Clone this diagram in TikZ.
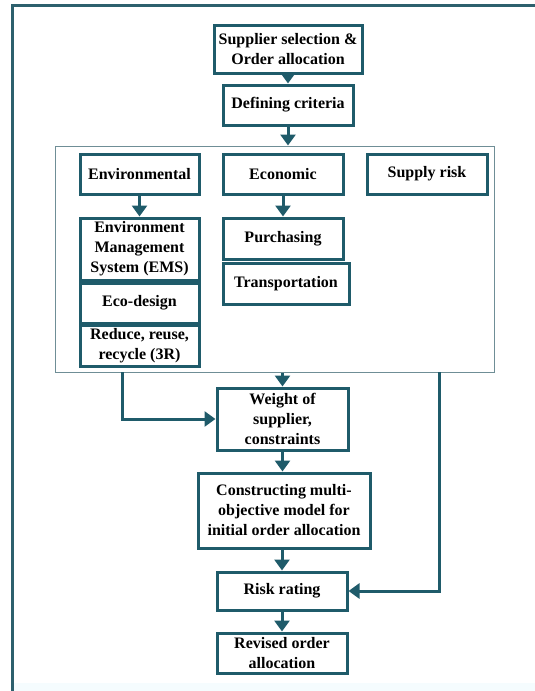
\documentclass[tikz,border=0pt]{standalone}
\usepackage{fontspec}
\setmainfont{Liberation Serif}
\usetikzlibrary{arrows.meta}

\definecolor{tealdark}{HTML}{1F5B6A}
\definecolor{framegray}{HTML}{6F8E96}

\tikzset{
  box/.style={draw=tealdark, line width=3pt, fill=white, align=center,
    inner sep=1pt, font=\bfseries\fontsize{16}{20}\selectfont},
  flow/.style={->, draw=tealdark, line width=3pt}
}

\begin{document}
\begin{tikzpicture}[x=1pt,y=-1pt,>={Triangle[width=15pt,length=11pt]}]
    \useasboundingbox (0,0) rectangle (535,691);
    \fill[cyan!4] (14,683) rectangle (535,691);
    \draw[tealdark!85!gray, line width=3pt] (12,691) -- (12,5) -- (535,5);
    %% Top of the flow
    \node[box, minimum width=148pt, minimum height=48pt] (sel) at (288,49) {Supplier selection \&\\Order allocation};
    \node[box, minimum width=130pt, minimum height=40pt, below of=sel, node distance=56pt] (crit) {Defining criteria};
    %% Criteria panel
    \node[draw=framegray, line width=1pt, minimum width=439pt, minimum height=226pt] (panel) at (274.5,259) {};
    \node[box, minimum width=119pt, minimum height=40pt] (env) at (139.5,174) {Environmental};
    \node[box, minimum width=120pt, minimum height=40pt] (econ) at (283,174) {Economic};
    \node[box, minimum width=120pt, minimum height=40pt] (srisk) at (427,174) {Supply risk};
    \node[box, minimum width=119pt, minimum height=62pt] (ems) at (139.5,249) {Environment\\Management\\System (EMS)};
    \node[box, minimum width=119pt, minimum height=40pt] (ecod) at (139.5,303) {Eco-design};
    \node[box, minimum width=119pt, minimum height=41pt] (threer) at (139.5,345.5) {Reduce, reuse,\\recycle (3R)};
    \node[box, minimum width=120pt, minimum height=41pt] (purch) at (283,238.5) {Purchasing};
    \node[box, minimum width=126pt, minimum height=41pt] (trans) at (286,283.5) {Transportation};
    %% Lower part
    \node[box, minimum width=131pt, minimum height=62pt] (weight) at (282.5,419) {Weight of\\supplier,\\constraints};
    \node[box, minimum width=172pt, minimum height=75pt] (model) at (284,510.5) {Constructing multi-\\objective model for\\initial order allocation};
    \node[box, minimum width=130pt, minimum height=38pt] (rating) at (282,591) {Risk rating};
    \node[box, minimum width=130pt, minimum height=40pt, below of=rating, node distance=62pt] (revised) {Revised order\\allocation};
    \coordinate (envout) at (122,372);
    \coordinate (riskout) at (439,372);
    %% Vertical arrows
    \draw[flow] (sel) -- (crit);
    \draw[flow] (crit.south) -- (crit.south |- panel.north);
    \draw[flow] (env) -- (ems);
    \draw[flow] (econ) -- (purch);
    \draw[flow] (weight.north |- panel.south) -- (weight.north);
    \draw[flow] (weight) -- (weight |- model.north);
    \draw[flow] (rating |- model.south) -- (rating);
    \draw[flow] (rating) -- (revised);
    %% Side paths
    \draw[flow] (envout) |- (weight.west);
    \draw[flow] (riskout) |- (rating.east);
  \end{tikzpicture}
\end{document}
